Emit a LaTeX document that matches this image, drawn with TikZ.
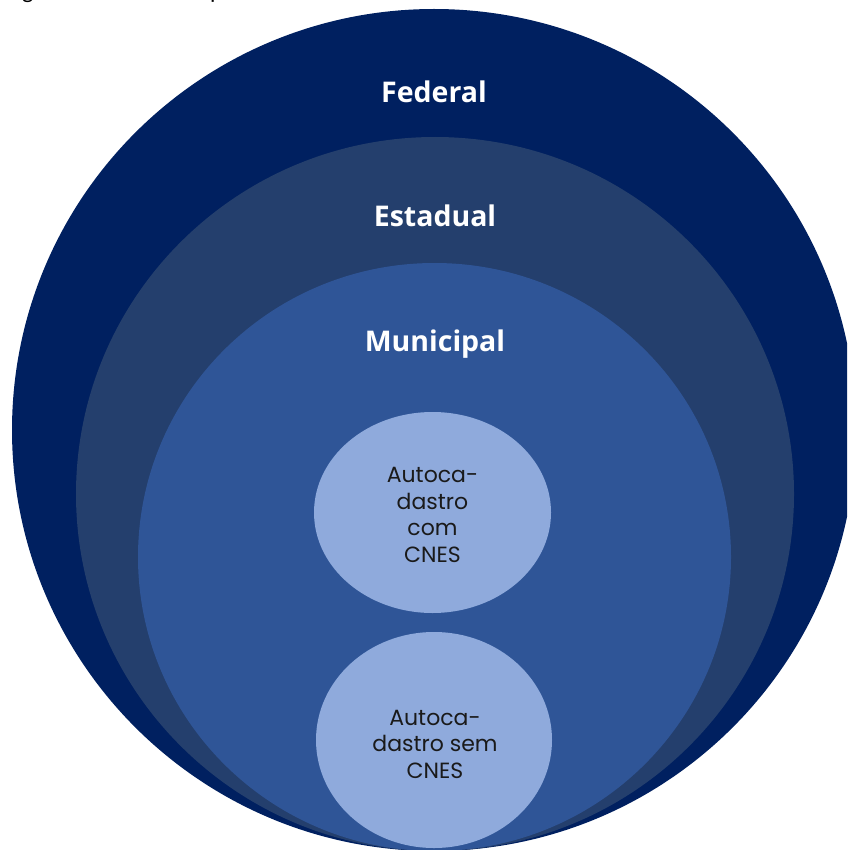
\documentclass[tikz,border=0pt]{standalone}
\usepackage{fontspec}
\usetikzlibrary{shapes.geometric}
\setmainfont{Open Sans}
\newfontfamily\geofont{Poppins}
\newfontfamily\capfont{Carlito}
\definecolor{fedcol}{HTML}{002060}
\definecolor{estcol}{HTML}{243F6D}
\definecolor{muncol}{HTML}{2F5597}
\definecolor{autocol}{HTML}{8FAADC}
\definecolor{txtcol}{HTML}{1A1A1A}
\begin{document}
\begin{tikzpicture}[x=1pt,y=-1pt,
  levellabel/.style={text=white,font=\bfseries\fontsize{28.5}{32}\selectfont,inner sep=0pt},
  autolabel/.style={text=txtcol,font=\geofont\fontsize{22}{26.5}\selectfont,align=center,inner sep=0pt},
  disc/.style={draw=none,fill=autocol,ellipse,inner sep=0pt}]
\useasboundingbox (0,0) rectangle (847,850);
\begin{scope}
\clip (0,0) rectangle (847,850);
\fill[fedcol] (434,430) ellipse [x radius=422,y radius=421];
\fill[estcol] (435,494) ellipse [x radius=359,y radius=357];
\fill[muncol] (434.5,557) ellipse [x radius=296.5,y radius=294];
\node[disc,minimum width=237pt,minimum height=201pt] (auto1) at (432.5,512.5) {};
\node[disc,minimum width=236pt,minimum height=216pt] (auto2) at (434,740) {};
\node[anchor=base west,inner sep=0pt,font=\capfont\fontsize{24}{26}\selectfont] (capg) at (22,-1) {g};
\node[anchor=base west,inner sep=0pt,font=\capfont\fontsize{24}{26}\selectfont] (capp) at (210,-1) {p};
\end{scope}
\node[levellabel] (federal) at (434,92) {Federal};
\node[levellabel] (estadual) at (435,216) {Estadual};
\node[levellabel] (municipal) at (435,344) {Municipal};
\node[autolabel] (t1) at (432.5,515) {Autoca-\\dastro\\com\\CNES};
\node[autolabel] (t2) at (435,744) {Autoca-\\dastro sem\\CNES};
\end{tikzpicture}
\end{document}
